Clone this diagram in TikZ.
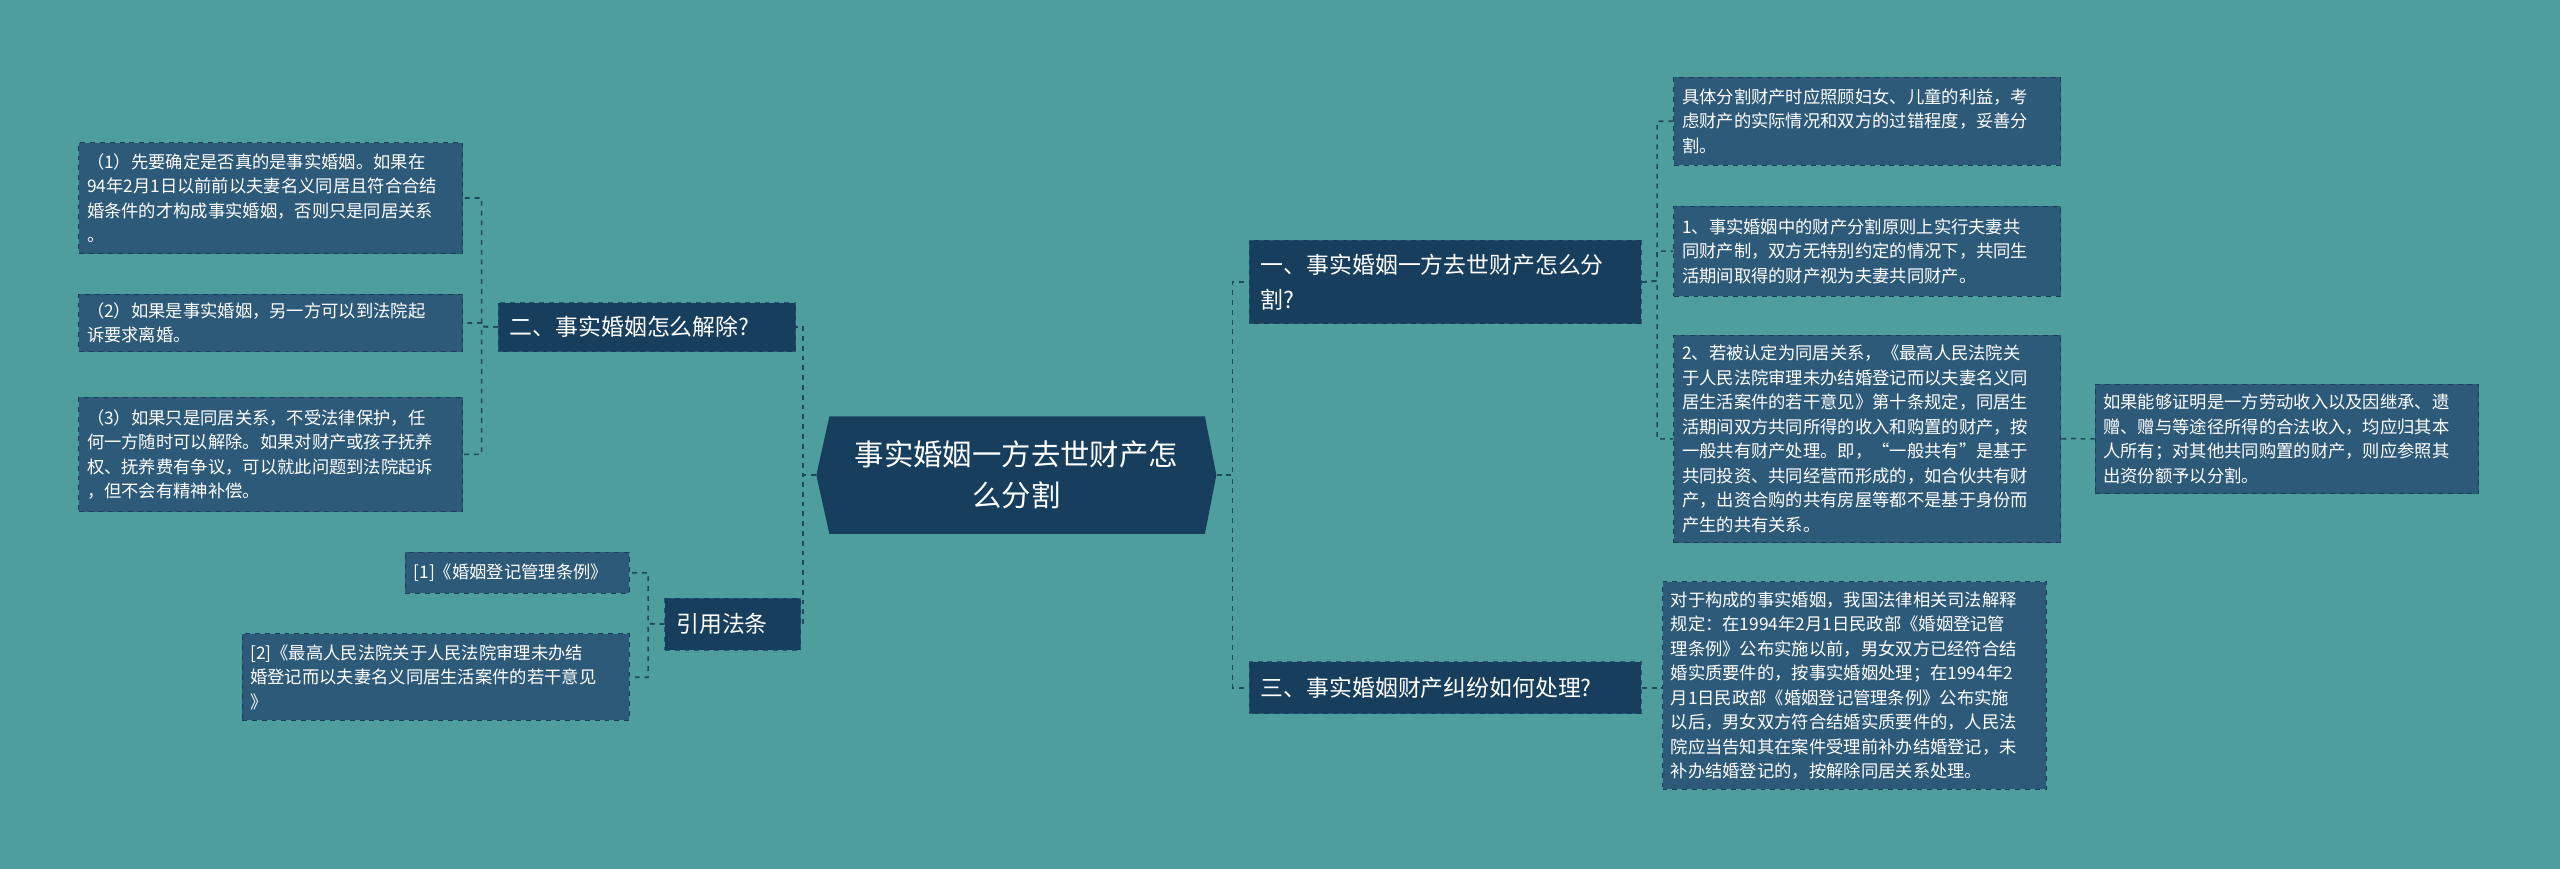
\documentclass[tikz,border=0pt]{standalone}
\usepackage{fontspec}
\setmainfont{Noto Sans CJK SC}
\begin{document}
\begin{tikzpicture}[x=1pt,y=-1pt,
  leaf/.style={draw=leafb,dashed,line width=0.6pt,fill=leaff,text=white,inner sep=5pt,align=left,font=\fontsize{10.6}{15}\selectfont,anchor=north west},
  branch/.style={draw=brb,dashed,line width=0.6pt,fill=brf,text=white,inner sep=7pt,align=left,font=\fontsize{14}{21}\selectfont,anchor=north west},
  conn/.style={draw=connc,dashed,line width=1pt}]
\definecolor{bg}{HTML}{4D9E9C}
\definecolor{leaff}{HTML}{2E5A7A}
\definecolor{leafb}{HTML}{1C3D57}
\definecolor{brf}{HTML}{173E5C}
\definecolor{brb}{HTML}{2C5573}
\definecolor{connc}{HTML}{1F4B5E}
\fill[bg] (0,0) rectangle (1568,532);
\useasboundingbox (0,0) rectangle (1568,532);
% center
\fill[brf] (508,255) -- (738,255) -- (745,291) -- (738,327) -- (508,327) -- (500,291) -- cycle;
\node[text=white,align=center,font=\fontsize{18}{25}\selectfont,minimum width=245pt,minimum height=72pt,inner sep=0pt] (c) at (622.5,291) {事实婚姻一方去世财产怎\\么分割};
% branches
\node[branch,text width=226pt,minimum height=51pt] (b1) at (765,147) {一、事实婚姻一方去世财产怎么分\\割?};
\node[branch,text width=226pt,minimum height=32pt] (b3) at (765,405) {三、事实婚姻财产纠纷如何处理?};
\node[branch,text width=168pt,minimum height=30pt] (b2) at (305,185) {二、事实婚姻怎么解除?};
\node[branch,text width=69pt,minimum height=32pt] (b4) at (407,366) {引用法条};
% right leaves
\node[leaf,text width=227pt,minimum height=54pt] (r1) at (1025,47) {具体分割财产时应照顾妇女、儿童的利益，考\\虑财产的实际情况和双方的过错程度，妥善分\\割。};
\node[leaf,text width=227pt,minimum height=55pt] (r2) at (1025,126) {1、事实婚姻中的财产分割原则上实行夫妻共\\同财产制，双方无特别约定的情况下，共同生\\活期间取得的财产视为夫妻共同财产。};
\node[leaf,text width=227pt,minimum height=127pt] (r3) at (1025,205) {2、若被认定为同居关系，《最高人民法院关\\于人民法院审理未办结婚登记而以夫妻名义同\\居生活案件的若干意见》第十条规定，同居生\\活期间双方共同所得的收入和购置的财产，按\\一般共有财产处理。即，“一般共有”是基于\\共同投资、共同经营而形成的，如合伙共有财\\产，出资合购的共有房屋等都不是基于身份而\\产生的共有关系。};
\node[leaf,text width=225pt,minimum height=67pt] (r4) at (1283,235) {如果能够证明是一方劳动收入以及因继承、遗\\赠、赠与等途径所得的合法收入，均应归其本\\人所有；对其他共同购置的财产，则应参照其\\出资份额予以分割。};
\node[leaf,text width=225pt,minimum height=127pt] (r5) at (1018,356) {对于构成的事实婚姻，我国法律相关司法解释\\规定：在1994年2月1日民政部《婚姻登记管\\理条例》公布实施以前，男女双方已经符合结\\婚实质要件的，按事实婚姻处理；在1994年2\\月1日民政部《婚姻登记管理条例》公布实施\\以后，男女双方符合结婚实质要件的，人民法\\院应当告知其在案件受理前补办结婚登记，未\\补办结婚登记的，按解除同居关系处理。};
% left leaves
\node[leaf,text width=225pt,minimum height=68pt] (l1) at (48,87) {（1）先要确定是否真的是事实婚姻。如果在\\94年2月1日以前前以夫妻名义同居且符合合结\\婚条件的才构成事实婚姻，否则只是同居关系\\。};
\node[leaf,text width=225pt,minimum height=35pt] (l2) at (48,180) {（2）如果是事实婚姻，另一方可以到法院起\\诉要求离婚。};
\node[leaf,text width=225pt,minimum height=70pt] (l3) at (48,243) {（3）如果只是同居关系，不受法律保护，任\\何一方随时可以解除。如果对财产或孩子抚养\\权、抚养费有争议，可以就此问题到法院起诉\\，但不会有精神补偿。};
\node[leaf,text width=127pt,minimum height=25pt] (l4) at (248,338) {[1]《婚姻登记管理条例》};
\node[leaf,text width=227pt,minimum height=53pt] (l5) at (148,388) {[2]《最高人民法院关于人民法院审理未办结\\婚登记而以夫妻名义同居生活案件的若干意见\\》};
% connectors
\draw[conn] (c.east) -- (755,291) |- (b1.west);
\draw[conn] (c.east) -- (755,291) |- (b3.west);
\draw[conn] (c.west) -- (492,291) |- (b2.east);
\draw[conn] (c.west) -- (492,291) |- (b4.east);
\draw[conn] (b1.east) -- (1015,172) |- (r1.west);
\draw[conn] (b1.east) -- (1015,172) |- (r2.west);
\draw[conn] (b1.east) -- (1015,172) |- (r3.west);
\draw[conn] (r3.east) -- (1272,268.5) |- (r4.west);
\draw[conn] (b3.east) -- (r5.west |- b3.east);
\draw[conn] (b2.west) -- (295,200) |- (l1.east);
\draw[conn] (b2.west) -- (295,200) |- (l2.east);
\draw[conn] (b2.west) -- (295,200) |- (l3.east);
\draw[conn] (b4.west) -- (397,382) |- (l4.east);
\draw[conn] (b4.west) -- (397,382) |- (l5.east);
\end{tikzpicture}
\end{document}
